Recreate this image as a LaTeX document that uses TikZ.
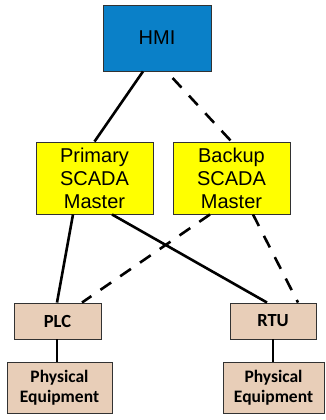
\documentclass[tikz,border=0pt]{standalone}
\usepackage{fontspec}
\setmainfont{Liberation Sans}
\newfontfamily\calfont{Carlito}
\definecolor{hmiblue}{RGB}{10,128,200}
\definecolor{scadayellow}{RGB}{255,255,0}
\definecolor{tan}{RGB}{232,206,184}
\definecolor{edgegray}{RGB}{50,50,50}
\begin{document}
\begin{tikzpicture}[x=1pt,y=-1pt,
  box/.style={draw=edgegray, line width=0.9pt, inner sep=0pt, align=center},
  topbox/.style={box, font=\fontsize{20}{23}\selectfont},
  lowbox/.style={box, fill=tan, font=\calfont\bfseries\fontsize{17.5}{20}\selectfont},
  link/.style={line width=2.6pt, black},
  dlink/.style={link, dash pattern=on 13pt off 11pt}
]
\useasboundingbox (0,0) rectangle (325,420);
\node[topbox, fill=hmiblue, minimum width=108pt, minimum height=66pt] (hmi) at (157,38) {HMI};
\node[topbox, fill=scadayellow, minimum width=117pt, minimum height=72pt] (prim) at (94.5,178) {Primary\\SCADA\\Master};
\node[topbox, fill=scadayellow, minimum width=117pt, minimum height=72pt] (back) at (231.5,178) {Backup\\SCADA\\Master};
\node[lowbox, font=\calfont\bfseries\fontsize{18.5}{20}\selectfont, minimum width=87pt, minimum height=36pt] (plc) at (57.5,321) {PLC};
\node[lowbox, font=\calfont\bfseries\fontsize{18.5}{20}\selectfont, minimum width=86pt, minimum height=36pt] (rtu) at (273,321) {RTU};
\node[lowbox, minimum width=105pt, minimum height=51pt] (pe1) at (59.5,387.5) {Physical\\Equipment};
\node[lowbox, minimum width=101pt, minimum height=51pt] (pe2) at (273.5,387.5) {Physical\\Equipment};
\draw[link] ([xshift=-14pt]hmi.south) -- (prim.north);
\draw[dlink, dash phase=15pt] ([xshift=9.5pt]hmi.south) -- (back.north);
\draw[link] ([xshift=-21.5pt]prim.south) -- ([xshift=-0.5pt]plc.north);
\draw[link] ([xshift=17.5pt]prim.south) -- ([xshift=-6pt]rtu.north);
\draw[dlink] ([xshift=-21.5pt]back.south) -- ([xshift=24.5pt]plc.north);
\draw[dlink] ([xshift=21.5pt]back.south) -- ([xshift=25pt]rtu.north);
\draw[link] ([xshift=-0.5pt]plc.south) -- ([xshift=-0.5pt]plc.south |- pe1.north);
\draw[link] (rtu.south) -- (rtu.south |- pe2.north);
\end{tikzpicture}
\end{document}
